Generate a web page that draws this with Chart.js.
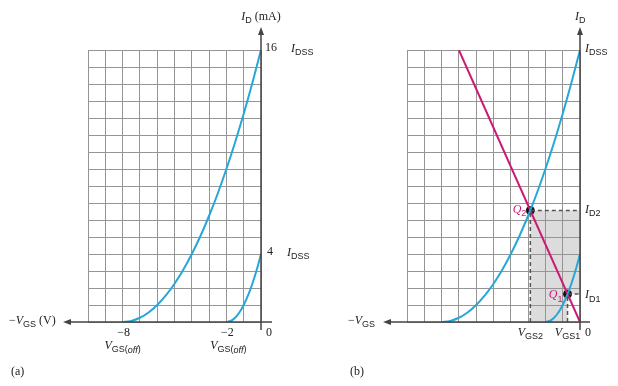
<!DOCTYPE html>
<html>
<head>
<meta charset="utf-8">
<script src="https://cdn.jsdelivr.net/npm/chart.js@4.4.0/dist/chart.umd.min.js"></script>
<style>
html, body { margin: 0; padding: 0; background: #fff; }
#wrap { position: relative; width: 618px; height: 386px; }
.panel { position: absolute; top: 0; height: 386px; }
</style>
</head>
<body>
<div id="wrap">
  <div class="panel" style="left:309px;width:309px"><canvas id="chartB" width="309" height="386"></canvas></div>
  <div class="panel" style="left:0;width:340px"><canvas id="chartA" width="340" height="386"></canvas></div>
</div>
<script>
// transfer curve, VGS(off) = -8 V, IDSS = 16 mA
const vgsBig = [-8, -7.5, -7, -6.5, -6, -5.5, -5, -4.5, -4, -3.5, -3, -2.5, -2, -1.5, -1, -0.5, 0];
const idBig = [0, 0.06, 0.25, 0.56, 1.0, 1.56, 2.25, 3.06, 4.0, 5.06, 6.25, 7.56, 9.0, 10.56, 12.25, 14.06, 16];
// transfer curve, VGS(off) = -2 V, IDSS = 4 mA
const vgsSmall = [-2, -1.75, -1.5, -1.25, -1, -0.75, -0.5, -0.25, 0];
const idSmall = [0, 0.06, 0.25, 0.56, 1.0, 1.56, 2.25, 3.06, 4.0];
// self-bias load line
const vgsLoad = [-7, 0];
const idLoad = [16, 0];
// Q points (VGS, ID)
const qNames = ['Q2', 'Q1'];
const qVgs = [-2.87, -0.72];
const qId = [6.56, 1.64];
// tick labels for panel (a)
const tickVals = [-8, -2, 0];
const tickLabels = ['\u22128', '\u22122', '0'];

const CYAN = '#27a6d8';
const MAGENTA = '#cc1a74';
const GRID = '#959595';
const AXIS = '#444';
const SERIF = '"Liberation Serif", serif';
const SANS = '"Liberation Sans", sans-serif';

const pts = (xs, ys) => xs.map((x, i) => ({ x: x, y: ys[i] }));

// draw text made of parts: [text, style] with style n / i / s (subscript) / si
function label(ctx, parts, x, y, align, color) {
  const fonts = {
    n: '12px ' + SERIF, i: 'italic 12px ' + SERIF,
    s: '9px ' + SANS, si: 'italic 9px ' + SANS
  };
  ctx.save();
  ctx.fillStyle = color || '#222';
  ctx.textBaseline = 'middle';
  ctx.textAlign = 'left';
  let w = 0;
  parts.forEach(p => { ctx.font = fonts[p[1]]; w += ctx.measureText(p[0]).width; });
  let cx = align === 'center' ? x - w / 2 : align === 'right' ? x - w : x;
  parts.forEach(p => {
    ctx.font = fonts[p[1]];
    ctx.fillText(p[0], cx, p[1][0] === 's' ? y + 4 : y);
    cx += ctx.measureText(p[0]).width;
  });
  ctx.restore();
}

function arrow(ctx, x, y, dir) {
  ctx.save();
  ctx.fillStyle = AXIS;
  ctx.beginPath();
  if (dir === 'up') { ctx.moveTo(x, y); ctx.lineTo(x - 3, y + 8); ctx.lineTo(x + 3, y + 8); }
  else { ctx.moveTo(x, y); ctx.lineTo(x + 8, y - 3); ctx.lineTo(x + 8, y + 3); }
  ctx.closePath();
  ctx.fill();
  ctx.restore();
}

function axes(chart, leftEnd, rightEnd) {
  const ctx = chart.ctx, xs = chart.scales.x, ys = chart.scales.y;
  const x0 = xs.getPixelForValue(0), y0 = ys.getPixelForValue(0);
  ctx.save();
  ctx.strokeStyle = AXIS;
  ctx.lineWidth = 1.5;
  ctx.beginPath();
  ctx.moveTo(leftEnd + 6, y0); ctx.lineTo(rightEnd, y0);
  ctx.moveTo(x0, y0 + 8); ctx.lineTo(x0, 34);
  ctx.stroke();
  ctx.restore();
  arrow(ctx, x0, 27, 'up');
  arrow(ctx, leftEnd, y0, 'left');
}

const scaleOpts = {
  x: {
    type: 'linear', min: -10, max: 0,
    ticks: { display: false, stepSize: 1 },
    grid: { color: GRID, lineWidth: 1, drawTicks: false },
    border: { display: false }
  },
  y: {
    type: 'linear', min: 0, max: 16,
    ticks: { display: false, stepSize: 1 },
    grid: { color: GRID, lineWidth: 1, drawTicks: false },
    border: { display: false }
  }
};

const curve = (data, color) => ({
  data: data, showLine: true, borderColor: color, borderWidth: 2,
  pointRadius: 0, tension: 0.4, cubicInterpolationMode: 'monotone', fill: false
});

const baseOptions = (pad) => ({
  responsive: false,
  animation: false,
  layout: { padding: pad },
  plugins: { legend: { display: false }, tooltip: { enabled: false } },
  scales: scaleOpts
});

// ---------- panel (a)
const annotA = {
  id: 'annotA',
  afterDraw(chart) {
    const ctx = chart.ctx, xs = chart.scales.x, ys = chart.scales.y;
    const x0 = xs.getPixelForValue(0);
    axes(chart, 63, 272);
    label(ctx, [['I', 'i'], ['D', 's'], [' (mA)', 'n']], x0, 17, 'center');
    label(ctx, [['16', 'n']], x0 + 4, ys.getPixelForValue(16) - 2, 'left');
    label(ctx, [['I', 'i'], ['DSS', 's']], x0 + 30, ys.getPixelForValue(16) - 1, 'left');
    label(ctx, [['4', 'n']], x0 + 6, ys.getPixelForValue(4) - 2, 'left');
    label(ctx, [['I', 'i'], ['DSS', 's']], x0 + 26, ys.getPixelForValue(4) - 1, 'left');
    label(ctx, [['\u2212', 'n'], ['V', 'i'], ['GS', 's'], [' (V)', 'n']], 9, ys.getPixelForValue(0) - 1, 'left');
    tickVals.forEach((v, i) => {
      const px = xs.getPixelForValue(v);
      if (v === 0) label(ctx, [[tickLabels[i], 'n']], px + 5, 333, 'left');
      else label(ctx, [[tickLabels[i], 'n']], px + 1, 333, 'center');
    });
    label(ctx, [['V', 'i'], ['GS(', 's'], ['off', 'si'], [')', 's']], xs.getPixelForValue(-8), 346, 'center');
    label(ctx, [['V', 'i'], ['GS(', 's'], ['off', 'si'], [')', 's']], xs.getPixelForValue(-2) + 2, 346, 'center');
    label(ctx, [['(a)', 'n']], 11, 372, 'left');
  }
};

new Chart(document.getElementById('chartA'), {
  type: 'scatter',
  data: {
    datasets: [
      curve(pts(vgsBig, idBig), CYAN),
      curve(pts(vgsSmall, idSmall), CYAN)
    ]
  },
  options: baseOptions({ left: 88, right: 79, top: 50, bottom: 64 }),
  plugins: [annotA]
});

// ---------- panel (b)
const shadeB = {
  id: 'shadeB',
  beforeDraw(chart) {
    const ctx = chart.ctx, xs = chart.scales.x, ys = chart.scales.y;
    const xa = xs.getPixelForValue(qVgs[0]), xb = xs.getPixelForValue(qVgs[1]);
    const x0 = xs.getPixelForValue(0), y0 = ys.getPixelForValue(0);
    const ya = ys.getPixelForValue(qId[0]), yb = ys.getPixelForValue(qId[1]);
    ctx.save();
    ctx.fillStyle = '#dcdcdc';
    ctx.beginPath();
    ctx.moveTo(xa, ya); ctx.lineTo(x0, ya); ctx.lineTo(x0, yb);
    ctx.lineTo(xb, yb); ctx.lineTo(xb, y0); ctx.lineTo(xa, y0);
    ctx.closePath();
    ctx.fill();
    ctx.restore();
  }
};

const annotB = {
  id: 'annotB',
  afterDraw(chart) {
    const ctx = chart.ctx, xs = chart.scales.x, ys = chart.scales.y;
    const x0 = xs.getPixelForValue(0), y0 = ys.getPixelForValue(0);
    axes(chart, 74, 281);
    label(ctx, [['I', 'i'], ['D', 's']], x0 - 5, 17, 'left');
    label(ctx, [['I', 'i'], ['DSS', 's']], x0 + 5, ys.getPixelForValue(16) - 1, 'left');
    label(ctx, [['I', 'i'], ['D2', 's']], x0 + 5, ys.getPixelForValue(qId[0]) - 1, 'left');
    label(ctx, [['I', 'i'], ['D1', 's']], x0 + 5, ys.getPixelForValue(qId[1]) + 1, 'left');
    label(ctx, [['Q', 'i'], ['2', 's']], xs.getPixelForValue(qVgs[0]) - 4, ys.getPixelForValue(qId[0]) - 1, 'right', MAGENTA);
    label(ctx, [['Q', 'i'], ['1', 's']], xs.getPixelForValue(qVgs[1]) - 5, ys.getPixelForValue(qId[1]) + 1, 'right', MAGENTA);
    label(ctx, [['\u2212', 'n'], ['V', 'i'], ['GS', 's']], 39, y0 - 1, 'left');
    label(ctx, [['V', 'i'], ['GS2', 's']], xs.getPixelForValue(qVgs[0]), 333, 'center');
    label(ctx, [['V', 'i'], ['GS1', 's']], xs.getPixelForValue(qVgs[1]), 333, 'center');
    label(ctx, [['0', 'n']], x0 + 5, 333, 'left');
    label(ctx, [['(b)', 'n']], 41, 372, 'left');
  }
};

const dashed = (data) => ({
  data: data, showLine: true, borderColor: '#555', borderWidth: 1.5,
  borderDash: [4, 3], pointRadius: 0, fill: false, clip: false
});

new Chart(document.getElementById('chartB'), {
  type: 'scatter',
  data: {
    datasets: [
      dashed([{ x: qVgs[0], y: 0 }, { x: qVgs[0], y: qId[0] }, { x: 0, y: qId[0] }]),
      dashed([{ x: qVgs[1], y: 0 }, { x: qVgs[1], y: qId[1] }, { x: 0, y: qId[1] }]),
      curve(pts(vgsBig, idBig), CYAN),
      curve(pts(vgsSmall, idSmall), CYAN),
      { data: pts(vgsLoad, idLoad), showLine: true, borderColor: MAGENTA, borderWidth: 2, pointRadius: 0 },
      { data: pts(qVgs, qId), showLine: false, pointRadius: 4, pointBackgroundColor: '#111', pointBorderColor: '#111' }
    ]
  },
  options: baseOptions({ left: 98, right: 38, top: 50, bottom: 64 }),
  plugins: [shadeB, annotB]
});
</script>
</body>
</html>
